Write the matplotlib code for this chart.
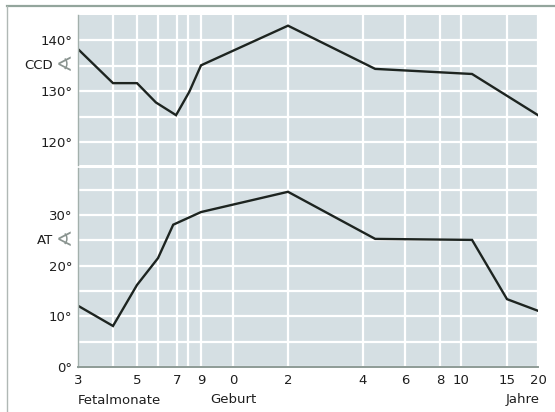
import numpy as np
import matplotlib
matplotlib.use("Agg")
import matplotlib.pyplot as plt
from matplotlib.lines import Line2D

# ---- data ----
# x positions are expressed as indices of the grid stages (fractional = between gridlines)
grid_stage_labels = ["3", "", "5", "", "7", "", "9", "0", "2", "4", "6", "8", "10", "15", "20"]

ccd_stage = [0, 1, 2, 2.9, 3.95, 5.1, 6, 8, 9.29, 12.24, 14]
ccd_value = [138.3, 131.6, 131.6, 127.8, 125.3, 129.9, 135.1, 142.9, 134.4, 133.4, 125.3]

at_stage = [0, 1, 2, 3, 3.8, 6, 8, 9.29, 12.24, 13, 14]
at_value = [12.1, 8.1, 16.2, 21.5, 28.1, 30.6, 34.6, 25.3, 25.1, 13.4, 11.1]

ccd_ticks = [120, 130, 140]
at_ticks = [0, 10, 20, 30]

# ---- layout (nonlinear x axis: pixel offsets of each gridline) ----
GRID_OFFS = np.array([0, 35, 59, 80, 99, 110, 123, 155, 210, 285, 327, 362, 383, 429, 460], float)
STAGES = np.arange(len(GRID_OFFS), dtype=float)

def fwd(x):
    return np.interp(x, STAGES, GRID_OFFS, left=-1e3, right=1e3)

def inv(y):
    return np.interp(y, GRID_OFFS, STAGES)

W, H = 555, 412
fig = plt.figure(figsize=(W / 100, H / 100), dpi=100)
fig.patch.set_facecolor("white")

BG = "#d5dfe3"
LINE = "#1d2420"
FONT = "DejaVu Sans"
FS = 9.5
TXT = "#1e1e1e"

def px_rect(x0, y0, x1, y1):
    return [x0 / W, 1 - y1 / H, (x1 - x0) / W, (y1 - y0) / H]

ax1 = fig.add_axes(px_rect(78, 15, 538, 165))
ax2 = fig.add_axes(px_rect(78, 168, 538, 367))

for ax in (ax1, ax2):
    ax.set_facecolor(BG)
    ax.set_xscale("function", functions=(fwd, inv))
    ax.set_xlim(0, 14)
    ax.set_xticks(STAGES)
    ax.grid(True, color="white", linewidth=1.6)
    ax.set_axisbelow(True)
    ax.tick_params(length=0, labelsize=FS, pad=4)
    for s in ("top", "right"):
        ax.spines[s].set_visible(False)
    ax.spines["left"].set_color("#a3b0ac")
    ax.spines["left"].set_linewidth(1.0)

ax1.set_xticklabels([""] * len(STAGES))
ax1.spines["bottom"].set_visible(False)
ax1.set_ylim(115.5, 145.0)
ax1.set_yticks(np.arange(120, 141, 5))
ax1.set_yticklabels([f"{v}°" if v in ccd_ticks else "" for v in range(120, 141, 5)])
ax1.plot(ccd_stage, ccd_value, color=LINE, linewidth=1.7, solid_joinstyle="miter")

ax2.set_xticklabels(grid_stage_labels)
ax2.spines["bottom"].set_color("#8d9b96")
ax2.spines["bottom"].set_linewidth(1.4)
ax2.set_ylim(0, 39.3)
ax2.set_yticks(np.arange(0, 36, 5))
ax2.set_yticklabels([f"{v}°" if v in at_ticks else "" for v in range(0, 36, 5)])
ax2.plot(at_stage, at_value, color=LINE, linewidth=1.7, solid_joinstyle="miter")
ax2.tick_params(axis="x", pad=5)

for ax in (ax1, ax2):
    for lab in ax.get_xticklabels() + ax.get_yticklabels():
        lab.set_fontfamily(FONT)
        lab.set_color(TXT)

# angle labels
for ax, yv, name in ((ax1, 135, "CCD"), (ax2, 25, "AT")):
    tr = ax.get_yaxis_transform()
    ax.text(-25 / 460, yv, name, transform=tr, ha="right", va="center",
            fontsize=FS, family=FONT, color=TXT, clip_on=False)
    ax.text(-5 / 460, yv, "∢", transform=tr, ha="right", va="center",
            fontsize=FS + 5, family=FONT, color="#8a9490", clip_on=False)

# axis captions
fig.text(78 / W, 1 - 400 / H, "Fetalmonate", ha="left", va="center", fontsize=FS, family=FONT, color=TXT)
ax2.text(7, -0.165, "Geburt", transform=ax2.get_xaxis_transform(), ha="center", va="center",
         fontsize=FS, family=FONT, color=TXT)
fig.text(540 / W, 1 - 400 / H, "Jahre", ha="right", va="center", fontsize=FS, family=FONT, color=TXT)

# outer frame lines
fig.add_artist(Line2D([7 / W, 1], [1 - 6 / H, 1 - 6 / H], color="#93a59c", linewidth=1.6))
fig.add_artist(Line2D([7 / W, 7 / W], [1 - 6 / H, 0], color="#b0b8b5", linewidth=1.0))

fig.savefig("out.png", dpi=100)
